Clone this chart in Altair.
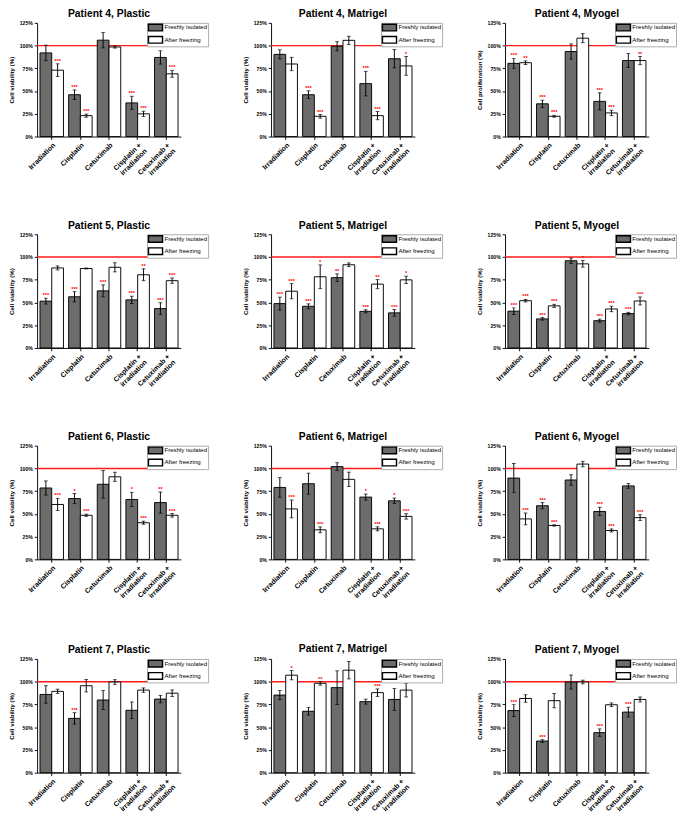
import altair as alt
import pandas as pd

categories = ["Irradiation", "Cisplatin", "Cetuximab", "Cisplatin +|irradiation", "Cetuximab +|irradiation"]
groups = ["Freshly isolated", "After freezing"]
group_colors = ["#6c6c6c", "#ffffff"]
y_ticks = [0, 25, 50, 75, 100, 125]
reference_level = [100]

# Patient 4, Plastic
p4_plastic_fresh = [92, 46, 106, 37, 87]
p4_plastic_fresh_err = [8.5, 5.3, 8.5, 7.3, 7.3]
p4_plastic_frozen = [73, 23, 98.5, 25, 69]
p4_plastic_frozen_err = [7, 1.7, 1.2, 2.9, 3.8]
p4_plastic_fresh_sig = ["", "***", "", "***", ""]
p4_plastic_frozen_sig = ["***", "***", "", "***", "***"]

# Patient 4, Matrigel
p4_matrigel_fresh = [90.4, 46, 99.3, 58.2, 85.6]
p4_matrigel_fresh_err = [5, 4.3, 5, 13.5, 10]
p4_matrigel_frozen = [79.8, 22.3, 105.8, 23, 77.7]
p4_matrigel_frozen_err = [7.3, 2, 4.5, 4.5, 10.3]
p4_matrigel_fresh_sig = ["", "***", "", "***", ""]
p4_matrigel_frozen_sig = ["", "***", "", "***", "*"]

# Patient 4, Myogel
p4_myogel_fresh = [80.5, 36, 93.5, 38.7, 83.6]
p4_myogel_fresh_err = [5.5, 4, 8.4, 9.4, 7.7]
p4_myogel_frozen = [81.2, 22.3, 108.2, 26, 83.6]
p4_myogel_frozen_err = [2, 1, 5, 3, 4.5]
p4_myogel_fresh_sig = ["***", "***", "", "***", ""]
p4_myogel_frozen_sig = ["**", "***", "", "***", "**"]

# Patient 5, Plastic
p5_plastic_fresh = [51.5, 56.3, 62.8, 52.9, 43.3]
p5_plastic_fresh_err = [3.2, 5.6, 6.6, 4, 6.5]
p5_plastic_frozen = [88, 87.4, 88.7, 80.5, 74]
p5_plastic_frozen_err = [2.2, 0.5, 5, 6.5, 2.9]
p5_plastic_fresh_sig = ["***", "***", "***", "***", "***"]
p5_plastic_frozen_sig = ["", "", "", "**", "***"]

# Patient 5, Matrigel
p5_matrigel_fresh = [48.8, 45.8, 77.3, 40.3, 38.6]
p5_matrigel_fresh_err = [7.1, 2.7, 4.2, 1.7, 3.7]
p5_matrigel_frozen = [62.4, 78.3, 91.5, 70.2, 74.9]
p5_matrigel_frozen_err = [8.3, 13, 2, 5, 4]
p5_matrigel_fresh_sig = ["***", "***", "**", "***", "***"]
p5_matrigel_frozen_sig = ["***", "*", "", "**", "*"]

# Patient 5, Myogel
p5_myogel_fresh = [40.5, 32, 95.9, 30, 37.8]
p5_myogel_fresh_err = [3.6, 1.4, 2.9, 1.7, 1.4]
p5_myogel_frozen = [52, 46.3, 92.5, 42.9, 51.7]
p5_myogel_frozen_err = [1.4, 1.7, 3.6, 3, 4.4]
p5_myogel_fresh_sig = ["***", "***", "", "***", "***"]
p5_myogel_frozen_sig = ["***", "***", "*", "***", "***"]

# Patient 6, Plastic
p6_plastic_fresh = [78.5, 66.9, 82.6, 65.9, 62.5]
p6_plastic_fresh_err = [7.8, 5.6, 15.2, 7.8, 11.6]
p6_plastic_frozen = [60.4, 48.5, 90.8, 40.3, 48.5]
p6_plastic_frozen_err = [6.7, 1.2, 5, 1.7, 2]
p6_plastic_fresh_sig = ["", "*", "", "*", "**"]
p6_plastic_frozen_sig = ["***", "***", "", "***", "***"]

# Patient 6, Matrigel
p6_matrigel_fresh = [79.1, 83.2, 102, 68.5, 64.4]
p6_matrigel_fresh_err = [10.8, 11.6, 4.3, 3.3, 3]
p6_matrigel_frozen = [55.5, 32.5, 88, 33.6, 47.3]
p6_matrigel_frozen_err = [9.8, 3.2, 7.9, 2.2, 3]
p6_matrigel_fresh_sig = ["", "", "", "*", "*"]
p6_matrigel_frozen_sig = ["***", "***", "", "***", "***"]

# Patient 6, Myogel
p6_myogel_fresh = [89.4, 59, 87.3, 52.7, 80.8]
p6_myogel_fresh_err = [16, 3.4, 5.8, 4.6, 2.6]
p6_myogel_frozen = [44.5, 37.3, 104.8, 31.8, 45.9]
p6_myogel_frozen_err = [6.5, 0.7, 3, 1.7, 3.2]
p6_myogel_fresh_sig = ["", "***", "", "***", ""]
p6_myogel_frozen_sig = ["***", "***", "", "***", "***"]

# Patient 7, Plastic
p7_plastic_fresh = [86, 59.7, 79.9, 68.6, 80.9]
p7_plastic_fresh_err = [9.6, 6.3, 10.4, 9.2, 4.1]
p7_plastic_frozen = [89.4, 95.6, 99.7, 90.8, 87.4]
p7_plastic_frozen_err = [2.4, 6.8, 2.6, 2.4, 3.6]
p7_plastic_fresh_sig = ["", "***", "", "", ""]
p7_plastic_frozen_sig = ["", "", "", "", ""]

# Patient 7, Matrigel
p7_matrigel_fresh = [85.3, 67.5, 93.5, 78.1, 80.5]
p7_matrigel_fresh_err = [5, 4.1, 18.5, 2.7, 12]
p7_matrigel_frozen = [107.2, 98.3, 112.7, 88, 90.8]
p7_matrigel_frozen_err = [5.1, 2, 9.6, 4.1, 7.5]
p7_matrigel_fresh_sig = ["", "", "", "", ""]
p7_matrigel_frozen_sig = ["*", "**", "", "***", "**"]

# Patient 7, Myogel
p7_myogel_fresh = [68.3, 34.8, 99.7, 44, 66.6]
p7_myogel_fresh_err = [6.5, 1.5, 7.7, 4.1, 5.3]
p7_myogel_frozen = [81.6, 79.2, 99.7, 74.7, 80.5]
p7_myogel_frozen_err = [4.1, 7.8, 2, 2, 2.7]
p7_myogel_fresh_sig = ["***", "***", "", "***", "***"]
p7_myogel_frozen_sig = ["", "", "", "", ""]

FONT = "Liberation Sans"


def panel(title, ytitle, fresh, fresh_err, frozen, frozen_err, fresh_sig, frozen_sig):
    rows = []
    for i, c in enumerate(categories):
        for g, m, e, s in ((groups[0], fresh[i], fresh_err[i], fresh_sig[i]),
                           (groups[1], frozen[i], frozen_err[i], frozen_sig[i])):
            rows.append(dict(cat=c, grp=g, mean=m, lo=m - e, hi=m + e, sig=s))
    df = pd.DataFrame(rows)

    x_axis = alt.Axis(
        title=None, labelAngle=315, labelAlign="right", labelBaseline="top",
        labelFont=FONT, labelFontSize=7.5, labelFontWeight="bold", labelColor="black",
        labelExpr="split(datum.label, '|')", labelLineHeight=8.5, labelPadding=2,
        tickSize=3, tickColor="black", domainColor="black", domainWidth=1,
    )
    y_axis = alt.Axis(
        values=y_ticks, labelExpr="datum.value + '%'", grid=False,
        labelFont=FONT, labelFontSize=5.5, labelFontWeight="bold", labelColor="black",
        titleFont=FONT, titleFontSize=6.5, titleFontWeight="bold", titleColor="black",
        titlePadding=5, tickSize=3, tickColor="black", domainColor="black", domainWidth=1,
        labelPadding=2,
    )
    y_scale = alt.Scale(domain=[0, 125], nice=False)
    x_enc = alt.X("cat:N", sort=categories, axis=x_axis,
                  scale=alt.Scale(paddingInner=0.18, paddingOuter=0.1))
    xo_enc = alt.XOffset("grp:N", sort=groups, scale=alt.Scale(paddingInner=0, paddingOuter=0))

    base = alt.Chart(df)
    ref = alt.Chart(pd.DataFrame({"v": reference_level})).mark_rule(
        color="#ff1a1a", strokeWidth=1.5
    ).encode(y=alt.Y("v:Q", scale=y_scale, axis=y_axis, title=ytitle))

    bars = base.mark_bar(stroke="black", strokeWidth=1).encode(
        x=x_enc, xOffset=xo_enc,
        y=alt.Y("mean:Q", scale=y_scale, axis=y_axis, title=ytitle),
        fill=alt.Fill("grp:N", sort=groups,
                      scale=alt.Scale(domain=groups, range=group_colors),
                      legend=alt.Legend(
                          title=None, orient="none", legendX=117, legendY=0,
                          symbolType="M-2.14,-1H2.14V1H-2.14Z", symbolSize=49,
                          symbolStrokeColor="black", symbolStrokeWidth=1.5,
                          symbolOpacity=1, symbolOffset=4,
                          labelFont=FONT, labelFontSize=6.5, labelColor="black",
                          labelOffset=5, rowPadding=0, padding=0.5,
                          strokeColor="#aaaaaa", fillColor="white",
                      )),
    )
    err = base.mark_rule(color="black", strokeWidth=1).encode(
        x=x_enc, xOffset=xo_enc,
        y=alt.Y("lo:Q", scale=y_scale, axis=y_axis, title=ytitle), y2="hi:Q")
    cap_hi = base.mark_tick(color="black", thickness=1, size=4, orient="horizontal").encode(
        x=x_enc, xOffset=xo_enc, y=alt.Y("hi:Q", scale=y_scale, axis=y_axis, title=ytitle))
    cap_lo = base.mark_tick(color="black", thickness=1, size=4, orient="horizontal").encode(
        x=x_enc, xOffset=xo_enc, y=alt.Y("lo:Q", scale=y_scale, axis=y_axis, title=ytitle))
    stars = base.mark_text(color="#ff0000", font=FONT, fontSize=6, fontWeight="bold",
                           baseline="bottom", dy=0).encode(
        x=x_enc, xOffset=xo_enc, y=alt.Y("hi:Q", scale=y_scale, axis=y_axis, title=ytitle),
        text="sig:N")

    return alt.layer(ref, bars, err, cap_hi, cap_lo, stars).properties(
        width=153, height=121,
        title=alt.TitleParams(title, font=FONT, fontSize=11, fontWeight="bold",
                              color="black", anchor="middle", offset=2),
    )


VIAB = "Cell viability (%)"
PROL = "Cell proliferation (%)"
HSPACE = 35

row1 = alt.hconcat(
    panel("Patient 4, Plastic", VIAB, p4_plastic_fresh, p4_plastic_fresh_err, p4_plastic_frozen, p4_plastic_frozen_err, p4_plastic_fresh_sig, p4_plastic_frozen_sig),
    panel("Patient 4, Matrigel", VIAB, p4_matrigel_fresh, p4_matrigel_fresh_err, p4_matrigel_frozen, p4_matrigel_frozen_err, p4_matrigel_fresh_sig, p4_matrigel_frozen_sig),
    panel("Patient 4, Myogel", PROL, p4_myogel_fresh, p4_myogel_fresh_err, p4_myogel_frozen, p4_myogel_frozen_err, p4_myogel_fresh_sig, p4_myogel_frozen_sig),
    spacing=HSPACE,
).resolve_scale(fill="independent")
row2 = alt.hconcat(
    panel("Patient 5, Plastic", VIAB, p5_plastic_fresh, p5_plastic_fresh_err, p5_plastic_frozen, p5_plastic_frozen_err, p5_plastic_fresh_sig, p5_plastic_frozen_sig),
    panel("Patient 5, Matrigel", VIAB, p5_matrigel_fresh, p5_matrigel_fresh_err, p5_matrigel_frozen, p5_matrigel_frozen_err, p5_matrigel_fresh_sig, p5_matrigel_frozen_sig),
    panel("Patient 5, Myogel", VIAB, p5_myogel_fresh, p5_myogel_fresh_err, p5_myogel_frozen, p5_myogel_frozen_err, p5_myogel_fresh_sig, p5_myogel_frozen_sig),
    spacing=HSPACE,
).resolve_scale(fill="independent")
row3 = alt.hconcat(
    panel("Patient 6, Plastic", VIAB, p6_plastic_fresh, p6_plastic_fresh_err, p6_plastic_frozen, p6_plastic_frozen_err, p6_plastic_fresh_sig, p6_plastic_frozen_sig),
    panel("Patient 6, Matrigel", VIAB, p6_matrigel_fresh, p6_matrigel_fresh_err, p6_matrigel_frozen, p6_matrigel_frozen_err, p6_matrigel_fresh_sig, p6_matrigel_frozen_sig),
    panel("Patient 6, Myogel", VIAB, p6_myogel_fresh, p6_myogel_fresh_err, p6_myogel_frozen, p6_myogel_frozen_err, p6_myogel_fresh_sig, p6_myogel_frozen_sig),
    spacing=HSPACE,
).resolve_scale(fill="independent")
row4 = alt.hconcat(
    panel("Patient 7, Plastic", VIAB, p7_plastic_fresh, p7_plastic_fresh_err, p7_plastic_frozen, p7_plastic_frozen_err, p7_plastic_fresh_sig, p7_plastic_frozen_sig),
    panel("Patient 7, Matrigel", VIAB, p7_matrigel_fresh, p7_matrigel_fresh_err, p7_matrigel_frozen, p7_matrigel_frozen_err, p7_matrigel_fresh_sig, p7_matrigel_frozen_sig),
    panel("Patient 7, Myogel", VIAB, p7_myogel_fresh, p7_myogel_fresh_err, p7_myogel_frozen, p7_myogel_frozen_err, p7_myogel_fresh_sig, p7_myogel_frozen_sig),
    spacing=HSPACE,
).resolve_scale(fill="independent")

chart = alt.vconcat(row1, row2, row3, row4, spacing=41).resolve_scale(
    fill="independent"
).properties(
    padding={"left": 0, "top": -26, "right": 0, "bottom": 0},
    background="white",
).configure_view(stroke=None)

chart.save("out.html", embed_options={"renderer": "svg", "actions": False})
